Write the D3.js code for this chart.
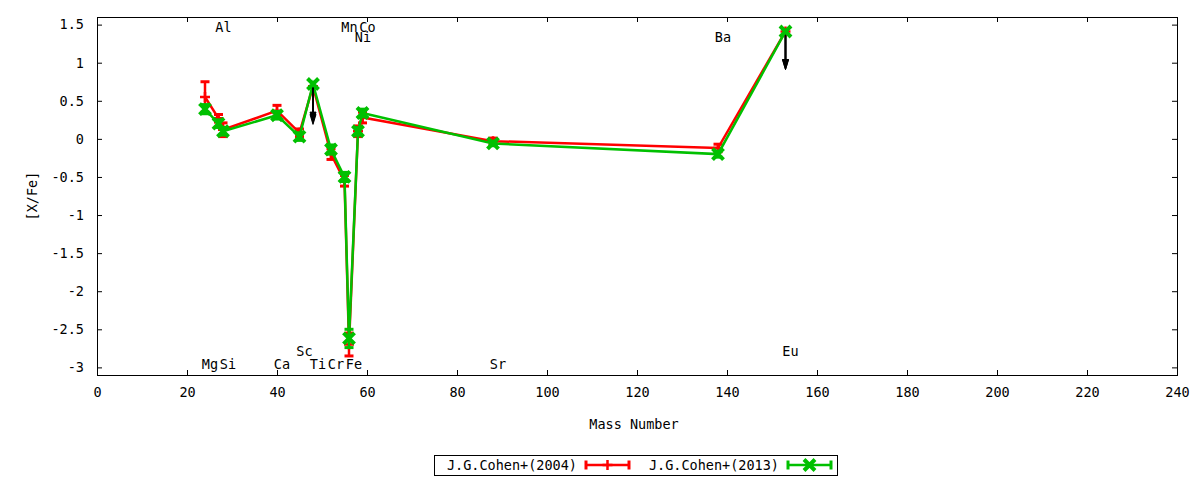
<!DOCTYPE html>
<html>
<head>
<meta charset="utf-8">
<script src="https://cdn.jsdelivr.net/npm/d3@7"></script>
<style>
  body { margin: 0; background: #fff; }
  svg text { font-family: "DejaVu Sans Mono", monospace; font-size: 13.5px; fill: #000; }
</style>
</head>
<body>
<svg id="chart" width="1200" height="480"></svg>
<script>
// Elements and their mass numbers
const elements = ['Mg', 'Al', 'Si', 'Ca', 'Sc', 'Ti', 'Cr', 'Mn', 'Fe', 'Ni', 'Co', 'Sr', 'Ba', 'Eu']
const massNumbers = [24, 27, 28, 40, 45, 48, 52, 55, 56, 58, 59, 88, 138, 153]
// [X/Fe]
const cohen2004 = [0.55, 0.27, 0.12, 0.37, 0.08, 0.69, -0.20, -0.55, -2.70, 0.10, 0.28, -0.03, -0.12, 1.41]
const cohen2004Err = [0.20, 0.05, 0.09, 0.07, 0.05, 0, 0.07, 0.07, 0.15, 0.07, 0.07, 0.04, 0.05, 0]
const cohen2013 = [0.39, 0.20, 0.10, 0.31, 0.03, 0.72, -0.14, -0.50, -2.62, 0.10, 0.34, -0.06, -0.20, 1.41]
const cohen2013Err = [0.06, 0.05, 0.05, 0.05, 0.05, 0, 0.06, 0.06, 0.12, 0.05, 0.05, 0.03, 0.04, 0]
// upper limits drawn as arrows pointing down
const upperLimits = ['Ti', 'Eu']
const arrowLength = 0.5
// where each element name sits on the y axis
const labelY = [-2.95, 1.47, -2.95, -2.95, -2.78, -2.95, -2.95, 1.47, -2.95, 1.34, 1.47, -2.95, 1.34, -2.78]
const xTicks = d3.range(0, 241, 20)
const yTicks = [-3, -2.5, -2, -1.5, -1, -0.5, 0, 0.5, 1, 1.5]

const svg = d3.select('#chart')
const plotLeft = 97, plotRight = 1177, plotTop = 17, plotBottom = 375

let x = d3.scaleLinear().domain([0, 240]).range([plotLeft, plotRight])
let y = d3.scaleLinear().domain([-3.1, 1.6]).range([plotBottom, plotTop])

// Axes, ticks pointing inward on all four sides
svg.append('g').attr('transform', `translate(0,${plotBottom})`)
  .call(d3.axisBottom(x).tickValues(xTicks).tickSizeInner(-5).tickSizeOuter(0).tickPadding(12).tickFormat(d => String(d)))
svg.append('g').attr('transform', `translate(0,${plotTop})`)
  .call(d3.axisTop(x).tickValues(xTicks).tickSizeInner(-5).tickSizeOuter(0).tickFormat(''))
svg.append('g').attr('transform', `translate(${plotLeft},0)`)
  .call(d3.axisLeft(y).tickValues(yTicks).tickSizeInner(-5).tickSizeOuter(0).tickPadding(13).tickFormat(d => String(d)))
svg.append('g').attr('transform', `translate(${plotRight},0)`)
  .call(d3.axisRight(y).tickValues(yTicks).tickSizeInner(-5).tickSizeOuter(0).tickFormat(''))
svg.selectAll('.domain').remove()
svg.selectAll('.tick line').attr('stroke', '#000').attr('stroke-width', 1)
svg.selectAll('.tick text').style('font-family', '"DejaVu Sans Mono", monospace').style('font-size', '13.5px')

svg.append('rect')
  .attr('x', plotLeft + 0.5).attr('y', plotTop + 0.5)
  .attr('width', plotRight - plotLeft).attr('height', plotBottom - plotTop)
  .attr('fill', 'none').attr('stroke', '#000').attr('stroke-width', 1)

// Axis titles
svg.append('text').attr('x', 634).attr('y', 429).attr('text-anchor', 'middle').text('Mass Number')
svg.append('text').attr('transform', 'translate(37,196) rotate(-90)').attr('text-anchor', 'middle').text('[X/Fe]')

// Element names
svg.append('g').selectAll('text').data(elements).join('text')
  .attr('x', (d, i) => x(massNumbers[i]) + 5)
  .attr('y', (d, i) => y(labelY[i]) + 5)
  .attr('text-anchor', 'middle')
  .text(d => d)

const markerPath = (type, px, py) => {
  if (type == 'x') {
    let s = 5.5
    return `M${px - s},${py - s}L${px + s},${py + s}M${px - s},${py + s}L${px + s},${py - s}`
  }
  let s = 5
  return `M${px - s},${py}L${px + s},${py}M${px},${py - s}L${px},${py + s}`
}

// Draws one series: line, error bars, markers and limit arrows
const drawSeries = (values, errors, color, marker) => {
  let pts = values.map((v, i) => ({ m: massNumbers[i], v: v, e: errors[i], el: elements[i] }))
  let g = svg.append('g')
  g.append('path').datum(pts)
    .attr('d', d3.line().x(d => x(d.m)).y(d => y(d.v)))
    .attr('fill', 'none').attr('stroke', color).attr('stroke-width', 2.5)

  let bars = g.selectAll('.err').data(pts.filter(d => d.e > 0)).join('g')
  bars.append('line')
    .attr('x1', d => x(d.m)).attr('x2', d => x(d.m))
    .attr('y1', d => y(d.v - d.e)).attr('y2', d => y(d.v + d.e))
    .attr('stroke', color).attr('stroke-width', 2.5)
  bars.selectAll('.tic').data(d => [[d.m, d.v - d.e], [d.m, d.v + d.e]]).join('line')
    .attr('x1', d => x(d[0]) - 4.5).attr('x2', d => x(d[0]) + 4.5)
    .attr('y1', d => y(d[1])).attr('y2', d => y(d[1]))
    .attr('stroke', color).attr('stroke-width', 3)

  // Upper limit arrows in black
  let lims = pts.filter(d => upperLimits.includes(d.el))
  g.selectAll('.arrow').data(lims).join('line')
    .attr('x1', d => x(d.m)).attr('x2', d => x(d.m))
    .attr('y1', d => y(d.v)).attr('y2', d => y(d.v - arrowLength) - 8)
    .attr('stroke', '#000').attr('stroke-width', 2)
  g.selectAll('.head').data(lims).join('path')
    .attr('d', d => {
      let px = x(d.m), py = y(d.v - arrowLength)
      return `M${px - 3},${py - 10}L${px + 3},${py - 10}L${px},${py}Z`
    })
    .attr('fill', '#000').attr('stroke', '#000').attr('stroke-width', 1)

  g.selectAll('.pt').data(pts).join('path')
    .attr('d', d => markerPath(marker, x(d.m), y(d.v)))
    .attr('fill', 'none').attr('stroke', color).attr('stroke-width', marker == 'x' ? 4 : 2.5)
}

drawSeries(cohen2004, cohen2004Err, '#ff0000', '+')
drawSeries(cohen2013, cohen2013Err, '#00c000', 'x')

// Legend
let legend = svg.append('g')
legend.append('rect').attr('x', 434.5).attr('y', 455.5).attr('width', 403).attr('height', 20)
  .attr('fill', 'none').attr('stroke', '#000').attr('stroke-width', 1)
let legendItems = [
  { name: 'J.G.Cohen+(2004)', color: '#ff0000', marker: '+', end: 577, x1: 586, x2: 629 },
  { name: 'J.G.Cohen+(2013)', color: '#00c000', marker: 'x', end: 779, x1: 788, x2: 831 }
]
legendItems.forEach(item => {
  legend.append('text').attr('x', item.end).attr('y', 470).attr('text-anchor', 'end').text(item.name)
  legend.append('line').attr('x1', item.x1).attr('x2', item.x2).attr('y1', 465).attr('y2', 465)
    .attr('stroke', item.color).attr('stroke-width', 2.5)
  ;[item.x1, item.x2].forEach(px => {
    legend.append('line').attr('x1', px).attr('x2', px).attr('y1', 460.5).attr('y2', 469.5)
      .attr('stroke', item.color).attr('stroke-width', 3)
  })
  legend.append('path').attr('d', markerPath(item.marker, (item.x1 + item.x2) / 2, 465))
    .attr('fill', 'none').attr('stroke', item.color).attr('stroke-width', item.marker == 'x' ? 4 : 2.5)
})
</script>
</body>
</html>
